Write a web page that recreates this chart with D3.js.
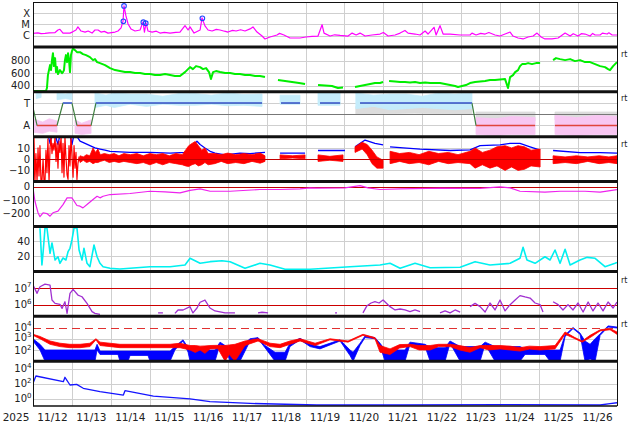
<!DOCTYPE html>
<html><head><meta charset="utf-8">
<script src="https://cdn.jsdelivr.net/npm/d3@7"></script>
<style>body{margin:0;background:#fff}svg{display:block}text{font-family:"DejaVu Sans",sans-serif;fill:#222}</style>
</head><body><svg id="c" width="634" height="424"></svg>
<script>
// ---- data: time in hours since 2025-11-12 00:00 UTC ----
const dayLabels = ["11/12","11/13","11/14","11/15","11/16","11/17","11/18","11/19","11/20","11/21","11/22","11/23","11/24","11/25","11/26"];
const yearLabel = "2025";

const xray = [[0,1.6e-6],[3,1.8e-6],[5,1.5e-6],[7.4,1.6e-6],[10,1.8e-6],[13.6,1.9e-6],[15.4,3.2e-6],[16.6,3.7e-6],[18.5,1.7e-6],[22.8,1.7e-6],[24.5,2.2e-6],[26.5,3.2e-6],[27.7,6.0e-6],[29.6,2.6e-6],[32.1,2.1e-6],[34,2.6e-6],[36.4,1.7e-6],[38.2,3.2e-6],[40.1,3.2e-6],[41.9,2.1e-6],[44,2.4e-6],[46.2,1.7e-6],[50.6,2.1e-6],[52.4,2.6e-6],[54.3,4.9e-6],[55.5,2.0e-5],[56.1,4.5e-4],[57.3,5.8e-5],[58.6,1.1e-5],[60.4,4.0e-6],[62.9,2.6e-6],[66,3.2e-6],[67.8,1.7e-5],[68.7,2.1e-6],[69.7,1.35e-5],[70.9,2.6e-6],[73.4,2.1e-6],[76,2.5e-6],[78.3,1.7e-6],[81,2.0e-6],[84.5,1.7e-6],[88,2.0e-6],[90.6,2.1e-6],[93.7,7.8e-6],[95.6,3.2e-6],[96.8,6.0e-6],[99.3,1.7e-6],[103,3.2e-6],[104.2,3.8e-5],[106,7.4e-6],[107.9,3.2e-6],[110.4,2.6e-6],[113,3.6e-6],[115.3,3.2e-6],[118,2.5e-6],[120.2,2.1e-6],[123,3.0e-6],[125.2,2.6e-6],[128,3.4e-6],[130.7,2.6e-6],[133.8,4.0e-6],[135.6,6.0e-6],[138.1,2.1e-6],[141.2,9.3e-7],[143,5.1e-7],[146.1,7.6e-7],[150.4,1.15e-6],[152,1.6e-6],[154.7,1.15e-6],[158.4,6.2e-7],[164.6,6.2e-7],[168.3,7.6e-7],[172,8.5e-7],[175.7,9.3e-7],[178.2,9.5e-6],[179.4,1.7e-6],[183.1,9.3e-7],[186,1.2e-6],[189.3,1.05e-6],[194.2,9.3e-7],[196.7,1.7e-6],[199.2,1.15e-6],[201.6,1.7e-6],[204.7,9.3e-7],[209,1.15e-6],[213.9,1.4e-6],[216,1.9e-6],[218.9,9.3e-7],[223.2,1.15e-6],[226.3,1.7e-6],[229.3,2.9e-6],[231.2,1.7e-6],[235.5,1.4e-6],[238.6,1.15e-6],[241.7,2.6e-6],[243.5,1.4e-6],[247.2,5.6e-6],[248.5,1.15e-6],[250.9,7.8e-6],[252.8,1.4e-6],[257.1,1.4e-6],[263.3,1.15e-6],[269.4,1.15e-6],[270.6,1.7e-6],[273.1,1.15e-6],[276,1.6e-6],[278.7,1.4e-6],[281,1.9e-6],[284.8,1.15e-6],[287.9,9.3e-7],[291,1.4e-6],[294.1,2.1e-6],[295.9,9.3e-7],[299,6.2e-7],[302.1,5.1e-7],[305.2,7.6e-7],[308.3,9.3e-7],[310.7,1.7e-6],[313.2,7.6e-7],[315.6,5.1e-7],[319.9,5.1e-7],[323.7,6.2e-7],[328,1.7e-6],[331.1,9.3e-7],[333,1.5e-6],[336,9.3e-7],[338,1.5e-6],[340.3,1.4e-6],[343.4,9.3e-7],[345,1.6e-6],[346.5,1.15e-6],[349.6,1.15e-6],[351,1.7e-6],[353.9,1.4e-6],[355,1.8e-6],[357,1.15e-6],[360,1.15e-6]];
const flares = [[55.7,1.9e-5],[56.1,4.5e-4],[68,1.6e-5],[69.5,1.3e-5],[104.4,3.5e-5]];

const speed = [[0,312],[4.3,312],[8,312],[8.6,360],[9.2,568],[10.5,728],[11.1,648],[11.7,808],[12.3,920],[12.9,712],[13.6,840],[14.2,616],[14.8,696],[15.4,584],[16.6,648],[17.9,600],[18.5,616],[19.1,648],[19.7,808],[20.3,888],[21,776],[21.6,920],[22.2,808],[22.8,616],[23.4,888],[24,952],[24.7,995],[25.9,968],[27.1,936],[29,936],[30.8,904],[32.7,888],[35.1,856],[37,808],[38.2,824],[39.5,776],[41.3,760],[44.4,728],[47.5,680],[50.6,648],[53.6,632],[56.7,616],[59.8,616],[62.9,600],[66,600],[69,584],[72.1,584],[75.2,568],[78.3,568],[81.4,584],[84.5,568],[87.5,552],[90.6,552],[93.7,616],[96.8,696],[98.6,664],[100.5,712],[103,696],[104.8,664],[106.7,680],[108.5,616],[109.7,504],[111,616],[112.8,632],[115.3,616],[118.4,600],[121.5,600],[124.5,584],[127.6,584],[130.7,568],[133.8,568],[136.9,552],[139.9,552],[143,536],null,
[151,488],[155.4,472],[159.7,456],[164,440],[167.7,424],null,
[175.7,408],[180,400],[184.3,392],[188,360],[191.1,368],null,
[198.5,376],[201.6,392],[204.7,408],[207.8,424],[210.8,440],[213.9,440],[215.8,456],null,
[219.5,472],[223.2,464],[226.3,456],[229.3,456],[232.4,448],[235.5,456],[238.6,440],[241.7,448],[244.8,440],[247.8,440],[250.9,440],[254,424],[257.1,408],[260.2,392],[262,376],[264.5,392],[266.9,408],[269.4,440],[272.5,456],[275.6,464],[278.7,472],[281.7,488],[284.8,488],[287.9,496],[291,504],[292.8,360],[294.1,536],[295.9,568],[297.2,616],[299,648],[300.2,712],[301.5,744],[303.3,744],[305.2,760],[307.6,744],[310.1,760],[312.6,760],null,
[320.6,808],[322.4,840],[324.9,824],[328,808],[331.1,824],[334.1,792],[337.2,808],[340.3,776],[343.4,776],[346.5,744],[349.6,712],[352.6,696],[354.5,664],[355.7,648],[357.6,712],[360,776]];

// solar wind type: 1 = T, 0 = A
const taState = [[0,0.8],[2.5,0],[14.8,0],[18.5,1],[24,1],[27.1,0],[35.8,0],[38.8,1],[141.2,1],null,[152.9,1],[164.6,1],null,[176.9,1],[189.3,1],null,[201.6,1],[270.6,1],[273.1,0],[309.5,0],null,[321.8,0],[360,0]];
const taCloudT = [[2,1.2,1.45],[5,1.25,1.45],null,[14.8,1.15,1.46],[20,1.2,1.4],[24,1.15,1.46],null,[38.2,0.8,1.45],[45,0.9,1.35],[50,0.8,1.45],[60,0.95,1.4],[70,0.85,1.4],[80,0.95,1.3],[90,0.9,1.42],[100,0.9,1.42],[110,0.95,1.35],[120,0.88,1.45],[130,0.9,1.38],[141.2,0.85,1.4],null,[152.3,0.95,1.35],[164.6,0.95,1.35],null,[175.7,0.9,1.45],[189.3,0.9,1.45],null,[199,0.75,1.45],[210,0.85,1.35],[220,0.7,1.4],[230,0.75,1.4],[240,0.8,1.3],[250,0.75,1.45],[260,0.7,1.4],[270.6,0.75,1.45]];
const taCloudA = [[0,-0.3,0.3],[6,-0.35,0.15],[10,-0.25,0.3],[14.8,-0.3,0.2],null,[25.9,-0.35,0.25],[30,-0.4,0.1],[35.8,-0.35,0.25],null,[273.1,-0.4,0.35],[285,-0.45,0.3],[295,-0.4,0.4],[309.5,-0.4,0.35],null,[321.8,-0.4,0.45],[335,-0.45,0.35],[348,-0.4,0.45],[360,-0.4,0.4]];
const taCloudG = [[199,0.5,0.85],[235,0.55,0.8],[270.6,0.5,0.85],null,[273.1,0.2,0.6],[309.5,0.2,0.6],null,[321.8,0.25,0.6],[360,0.25,0.6]];

const bzEarly = [[0,20],[0.3,-20],[0.6,20],[1.2,-20],[1.8,5],[2.5,-20],[3.1,10],[3.7,-15],[4.3,12],[4.9,-20],[5.5,-20],[6.2,0],[6.8,-20],[7.4,-20],[8,8],[8.6,-12],[9.2,18],[9.9,-20],[10.5,10],[11.1,20],[11.7,5],[12.3,14],[12.9,8],[13.6,20],[14.2,-2],[14.8,14],[15.4,-8],[16,16],[16.6,6],[17.3,20],[17.9,-12],[18.5,14],[19.1,-16],[19.7,20],[20.3,2],[21,-14],[21.6,-18],[22.2,12],[22.8,-6],[23.4,20],[24,4],[24.7,-16],[25.3,12],[25.9,-8],[26.5,6],[27.1,-18],[27.7,-4],[28.4,2],[29,-2]];
const bzBand = [[29,-3,3],[31,-1,2],[33,-3,4],[35,-2,3],[37,-4,10],[38.5,-3,6],[40,-3,9],[41.5,-2,4],[44,-1,5],[47,-3,4],[50,-2,5],[53,-3,3],[56,-2,5],[60,-3,4],[64,-4,5],[68,-3,3],[72,-5,5],[76,-3,4],[80,-5,5],[84,-3,3],[88,-4,5],[92,-5,4],[94,-6,8],[96,-6.6,12],[98,-5,14],[100,-4,15.7],[102,-6,12],[104,-5,8],[106,-3,10],[108,-5,5],[112,-4,5],[116,-2,4],[120,-4,5.4],[125,-3,4],[130,-4,5],[135,-2,4],[140,-3.6,5.4],[143,-2,3],null,
[152.3,0.3,3.8],[160,1,3],[167.7,0.3,3.8],null,[175.7,-2,3.8],[183,-1,2.5],[191.1,-2,3.8],null,
[198.5,6,11],[202.9,9,15],[206,4,13],[209,-4,8],[212,-8,2],[215.8,-8,-1],null,
[220.1,-4,7],[226,-2,5],[232,-4,6],[238,-3,4],[244,-5,7],[250,-2,5],[256,-4,6],[262,-3,4],[269.4,-4,7],[272.5,-8,10],[277,-5,6],[281.7,-8,8],[286,-6,11],[291,-10,12],[295,-7,10],[299,-10,12],[303,-9,11],[307,-6,8],[312.6,-7,9],null,
[320.6,-4,3],[328,-3,2],[335,-4,3],[342,-2,2],[349,-4,3],[355,-3,2],[360,-4,3]];
const bt = [[9.2,22],[10.5,14],[11.7,22],[13.6,22],[15.4,13],[16.6,22],[22.8,22],[24,13],[25.3,22],[27.1,20],[29,16],[32.1,14],[35.1,12],[38.2,10],[41.3,9],[44.4,8],[47.5,7],[53.6,6.5],[59.8,6],[72.1,6],[84.5,5.4],[93.7,6],[96.8,10],[99.9,14],[101.1,16],[103,13],[106,10],[109.2,7],[112.2,5.4],[118.4,3.8],[127.6,5.4],[133.8,5],[143,6],null,[152.3,5.4],[167.7,5.4],null,[175.7,7.7],[192.3,7.7],null,[198.5,11],[204.7,17],[210.8,14],[215.8,12.8],null,[220.1,11],[238.6,9],[257.1,7.7],[269.4,8.3],[275.6,12],[287.9,12.8],[294.1,14],[300.2,14],[306.4,11],[312.6,8],null,[320.6,7.7],[337.2,5.9],[349.6,5.9],[360,5.4]];

const dst = [[0,-8],[1.2,-109],[3.1,-196],[4.3,-226],[6.2,-196],[8.6,-202],[10.5,-222],[12.3,-196],[15.4,-184],[18.5,-134],[21,-83],[24,-83],[27.1,-141],[29,-146],[30.8,-159],[33.3,-134],[37,-96],[39.5,-71],[41.3,-83],[43.2,-71],[47.5,-58],[59.8,-50],[72.1,-33],[81.4,-38],[90.6,-45],[96.8,-26],[103,-15],[109.2,-33],[121.5,-33],[139.9,-20],[152.3,-20],[164.6,-15],[170.8,-8],[175.1,-10],[192.3,-8],[201.6,10],[206.5,-8],[213.9,-20],[226.3,-15],[250.9,-10],[275.6,-12],[287.9,0],[294.1,-8],[300.2,-33],[315.6,-40],[324.9,-33],[340.3,-33],[349.6,-40],[360,-20]];

const dens = [[4.3,57.6],[5.5,8.5],[6.2,24.6],[7.4,58],[8.6,58],[10.5,24.2],[11.7,38],[13.6,15.2],[15.4,19.6],[16.6,10.8],[18.5,17.9],[20.3,15.2],[21.6,26.3],[22.8,30.9],[24,42],[25.3,58],[27.1,58],[28.4,28.6],[30.2,15.2],[31.4,30.9],[33.3,10.8],[35.1,6.3],[37.6,35.3],[39.5,19.6],[41.3,10.8],[43.2,6.3],[47.5,4.1],[53.6,3.2],[72.1,6.3],[84.5,6.3],[93.7,8.6],[96.8,17.5],[103,10.8],[109.2,13],[116.5,14.3],[121.5,13],[130.7,4.1],[139.9,10.8],[146.1,8.6],[155.4,2.8],[170.8,2.8],[195.4,6.3],[213.9,8.6],[220.1,10.8],[226.3,4.1],[235.5,10.8],[244.8,4.9],[263.3,5.5],[272.5,13],[281.7,8.6],[294.1,10.8],[300.2,17.5],[302.1,32.2],[304.5,15.2],[309.5,10.8],[315.6,19.6],[318.7,15.2],[321.8,28.6],[324.9,10.8],[328,29.5],[331.1,8.6],[337.2,15.2],[341.6,18.8],[346.5,17.5],[352.6,6.3],[358.8,10.8],[360,12]];

const elec = [[0,1.5e7],[2.5,4.8e6],[4.3,1.2e7],[7.4,1.7e7],[10.5,1.5e7],[11.7,1.9e6],[13.6,1.2e6],[16.6,1.05e6],[17.9,6.0e5],[19.7,1.5e6],[21,3.0e5],[22.8,4.8e6],[24.7,8.3e6],[27.7,3.8e6],[30.2,3.0e6],[33.3,1.2e6],[36.4,3.8e5],[38.2,3.0e5],[41.3,2.6e5],null,
[77.1,3.2e5],[80.1,3.2e5],null,[87.5,3.0e5],[89.4,4.8e5],[92.5,4.8e5],[96.8,7.6e5],[98.6,3.2e5],[101.1,6.3e5],[103,1.4e6],[106,1.9e6],[109.1,6.3e5],[112.2,4.2e5],[118.4,3.2e5],[124.5,3.2e5],null,
[138.7,3.2e5],[141.2,3.5e5],[144.9,3.2e5],null,[186.2,3.2e5],[187.4,3.2e5],null,
[203.4,3.2e5],[205.9,8.7e5],[208.4,1.26e6],[210.8,1.5e6],[213.3,1.26e6],[215.8,1.9e6],[220.1,7.6e5],[223.2,4.8e5],[226.3,5.5e5],[229.3,4.8e5],[232.4,3.8e5],[235.5,4.8e5],[238.6,3.8e5],null,
[250.9,3.2e5],[254,4.2e5],[257.1,3.2e5],[260.2,4.8e5],[263.3,3.6e5],null,
[269.4,7.6e5],[272.5,1.2e6],[275.6,7.6e5],[278.7,3.6e5],[281.7,1.26e6],[284.8,4.8e5],[287.9,1.9e6],[291,4.2e5],[294.1,1.0e6],[297.2,1.9e6],[300.2,3.5e6],[303.3,2.9e6],[306.4,2.5e6],[309.5,1.26e6],[312.6,1.0e6],[314.4,3.6e5],null,
[320.6,1.5e6],[323.7,1.0e6],[326.7,4.8e5],[329.8,1.0e6],[332.9,4.8e5],[336,1.26e6],[339.1,3.6e5],[342.2,1.45e6],[345.2,4.2e5],[348.3,1.26e6],[351.4,4.2e5],[354.5,1.45e6],[357.6,6.3e5],[360,1.45e6]];

const protHi = [[0,2000,2500],[4.3,1000,1600],[10.5,320,630],[16.6,200,400],[22.8,160,320],[29,160,320],[35.1,200,400],[38.8,800,1000],[41.3,250,500],[53.6,160,320],[72.1,160,320],[84.5,160,320],[90.6,160,400],[96.8,100,250],[100,60,250],[103,100,220],[106,50,230],[109.1,125,250],[114,130,260],[118.4,10,250],[121,40,280],[124.5,10,320],[130.7,250,630],[138.7,630,1000],[146.1,200,400],[152.3,160,320],[158.4,320,630],[164.6,630,1000],[173.9,250,400],[183.1,800,1000],[194.2,500,630],[203.4,2000,2500],[210.8,1000,1260],[213.9,63,250],[220.1,40,125],[226,150,300],[232.4,200,320],[238,100,250],[244.8,100,250],[250,200,320],[257.1,200,320],[263,100,250],[269.4,63,160],[275.6,160,250],[281,100,250],[287.9,125,250],[294,100,220],[300.2,80,160],[306,120,220],[312.6,100,200],[321.8,125,250],[328,2500,4000],[334.1,1000,1260],[338.5,500,630],[343.4,1260,2000],[349.6,5000,6300],[355.7,6300,8000],[360,2500,4000]];
const protLo = [[0,630,1000],[4.3,100,320],[7.4,10,100],[38.2,10,100],[39.5,100,320],[41.3,40,80],[52.4,40,80],[53.6,10,80],[58.6,10,80],[59.8,32,80],[70.9,32,80],[72.1,10,80],[84.5,10,80],[87.5,100,200],[92.5,630,800],[95.6,63,160],[96.8,10,100],[112.2,10,100],[115.3,320,500],[118.4,160,250],[121.5,10,160],[127.6,10,160],[133.8,630,1000],[138.7,1000,1260],[143,160,250],[149.2,10,63],[155.4,10,63],[158.4,200,400],[164.6,800,1100],[170.8,200,320],[176.9,125,200],[189.3,630,800],[195.4,32,100],[197.3,10,63],[201.6,250,400],[204.7,1260,1800],[210.8,1000,1260],[213.9,250,400],[217,10,100],[229.3,10,100],[232.4,320,500],[241.7,200,320],[244.8,10,160],[254,10,160],[257.1,400,630],[263.3,10,200],[275.6,10,200],[278.7,320,500],[284.8,10,200],[300.2,10,200],[303.3,40,125],[315.6,40,125],[318.7,10,100],[324.9,10,100],[328,1600,2200],[332.9,8000,10000],[337.2,2500,3200],[340.3,10,630],[343.4,16,320],[346.5,10,1000],[349.6,2000,2800],[354.5,11000,14000],[360,9000,11000]];

const p9 = [[0,112],[1.8,1050],[18.7,182],[19.7,708],[22.8,66],[26.9,81],[31,24],[41.3,8.5],[55.7,3.0],[56.7,11.5],[74.2,2.2],[96.8,0.9],[109.1,0.39],[133.8,0.23],[175,0.14],[226.3,0.14],[287.9,0.16],[349.6,0.14],[355.7,0.22],[360,0.28]];

// ---- layout ----
const L=33, R=617, TOP=2, PH=44.9;
const T0 = Date.UTC(2025,10,12);
const hd = h => new Date(T0 + h*3600e3);
const x = d3.scaleUtc().domain([hd(0), hd(360)]).range([L,R]);
const svg = d3.select('#c');
const pTop = i => TOP + i*PH, pBot = i => TOP + (i+1)*PH;

const ys = [
  d3.scaleLog().domain([1e-7,1e-3]).range([pBot(0),pTop(0)]),
  d3.scaleLinear().domain([300,1020]).range([pBot(1),pTop(1)]),
  d3.scaleLinear().domain([-0.5,1.5]).range([pBot(2),pTop(2)]),
  d3.scaleLinear().domain([-20,20]).range([pBot(3),pTop(3)]),
  d3.scaleLinear().domain([-300,40]).range([pBot(4),pTop(4)]),
  d3.scaleLinear().domain([0,60]).range([pBot(5),pTop(5)]),
  d3.scaleLog().domain([2e5,1e8]).range([pBot(6),pTop(6)]),
  d3.scaleLog().domain([10,1e5]).range([pBot(7),pTop(7)]),
  d3.scaleLog().domain([0.1,1e5]).range([pBot(8),pTop(8)])
];

const defs = svg.append('defs');
ys.forEach((y,i)=>{
  defs.append('clipPath').attr('id','cp'+i).append('rect')
    .attr('x',L).attr('y',pTop(i)).attr('width',R-L).attr('height',PH);
});

// vertical day grid
const gGrid = svg.append('g');
for(let d=1; d<15; d++){
  const xx = Math.round(x(hd(d*24)))+0.5;
  gGrid.append('line').attr('x1',xx).attr('x2',xx).attr('y1',TOP).attr('y2',pBot(8)).attr('stroke','#cfcfcf').attr('stroke-width',1);
}
// horizontal grid
const hgrid = [[1e-6,1e-5,1e-4],[400,600,800],[0,1],[10,-10],[-100,-200],[20,40],[],[100,1000],[1,100,1e4]];
hgrid.forEach((vals,i)=>vals.forEach(v=>{
  const yy = Math.round(ys[i](v))+0.5;
  gGrid.append('line').attr('x1',L).attr('x2',R).attr('y1',yy).attr('y2',yy).attr('stroke','#cfcfcf');
}));

function line(i, data, color, w){
  const y = ys[i];
  svg.append('path').attr('clip-path',`url(#cp${i})`).attr('d', d3.line().defined(d=>d!==null).x(d=>x(hd(d[0]))).y(d=>y(d[1]))(data))
    .attr('fill','none').attr('stroke',color).attr('stroke-width',w||1).attr('stroke-linejoin','round');
}
function band(i, data, fill, op){
  const y = ys[i];
  const ar = d3.area().defined(d=>d!==null).x(d=>x(hd(d[0]))).y0(d=>y(d[1])).y1(d=>y(d[2]));
  svg.append('path').attr('clip-path',`url(#cp${i})`).attr('d', ar(data))
    .attr('fill',fill).attr('fill-opacity',op||1).attr('stroke',fill).attr('stroke-opacity',op||1).attr('stroke-width',0.8);
}
function hline(i, v, color, dash){
  const yy = Math.round(ys[i](v))+0.5;
  svg.append('line').attr('x1',L).attr('x2',R).attr('y1',yy).attr('y2',yy).attr('stroke',color).attr('stroke-width',1.2).attr('stroke-dasharray',dash||null);
}

// panel 1
line(0, xray, '#ff00ff', 1.2);
svg.append('g').selectAll('circle').data(flares).join('circle')
  .attr('cx',d=>x(hd(d[0]))).attr('cy',d=>ys[0](d[1])).attr('r',2.3)
  .attr('fill','none').attr('stroke','#2244ff').attr('stroke-width',1.1);
// panel 2
line(1, speed, '#00ee00', 2);
// panel 3
band(2, taCloudG, '#dcdcdc');
band(2, taCloudT, '#c4ecfb');
band(2, taCloudA, '#f8c6f2');
{ const yy = Math.round(ys[2](0.5))+0.5;
  svg.append('line').attr('x1',L).attr('x2',R).attr('y1',yy).attr('y2',yy).attr('stroke','#777'); }
line(2, taState, '#3f7f3f', 1.2);
for(let k=1;k<taState.length;k++){
  const a=taState[k-1], b=taState[k];
  if(a && b && a[1]===b[1]) line(2,[a,b], a[1]===1?'#4c62e8':'#e0443c',1.4);
}
// panel 4
line(3, bt, '#0000ff', 1.3);
band(3, bzBand, '#ff0000');
line(3, bzEarly, '#ff0000', 1.2);
hline(3, 0, '#c00000');
// panel 5
hline(4, 0, '#c00000');
line(4, dst, '#ee22ee', 1.2);
// panel 6
line(5, dens, '#00f0f0', 1.6);
// panel 7
hline(6, 1e7, '#cc0000'); hline(6, 1e6, '#cc0000');
line(6, elec, '#a030d0', 1.3);
// panel 8
band(7, protLo, '#0000ff');
band(7, protHi, '#ff0000');
hline(7, 1e4, '#e03030', '8,5');
// panel 9
line(8, p9, '#1515ff', 1.3);

// separators & frame
for(let i=1;i<9;i++){
  svg.append('line').attr('x1',L).attr('x2',R).attr('y1',pTop(i)).attr('y2',pTop(i)).attr('stroke','#111').attr('stroke-width',3);
}
svg.append('line').attr('x1',L).attr('x2',R).attr('y1',TOP+0.5).attr('y2',TOP+0.5).attr('stroke','#111');
svg.append('line').attr('x1',L).attr('x2',R).attr('y1',pBot(8)).attr('y2',pBot(8)).attr('stroke','#111').attr('stroke-width',1.5);
svg.append('line').attr('x1',L+0.5).attr('x2',L+0.5).attr('y1',TOP).attr('y2',pBot(8)).attr('stroke','#111');
svg.append('line').attr('x1',R+0.5).attr('x2',R+0.5).attr('y1',TOP).attr('y2',pBot(8)).attr('stroke','#111');

// y labels
const labs = svg.append('g').attr('font-size',10).attr('text-anchor','end');
function ylab(i, v, txt, dy){
  labs.append('text').attr('x',30).attr('y',ys[i](v)+(dy||0)).attr('dy','0.36em').text(txt);
}
function ylabPow(i, v, exp, dy){
  const t = labs.append('text').attr('x',31.5).attr('y',ys[i](v)+(dy||0)).attr('dy','0.36em');
  t.append('tspan').text('10');
  t.append('tspan').attr('font-size',7).attr('dy','-0.6em').text(exp);
}
ylab(0,1e-4,'X'); ylab(0,1e-5,'M'); ylab(0,1e-6,'C');
[400,600,800].forEach(v=>ylab(1,v,String(v)));
ylab(2,1,'T'); ylab(2,0,'A');
ylab(3,10,'10'); ylab(3,0,'0'); ylab(3,-10,'\u221210');
ylab(4,0,'0'); ylab(4,-100,'\u2212100'); ylab(4,-200,'\u2212200');
ylab(5,40,'40'); ylab(5,20,'20');
ylabPow(6,1e7,'7'); ylabPow(6,1e6,'6');
ylabPow(7,1e4,'4',-0.5); ylabPow(7,1e3,'3',-1.5); ylabPow(7,1e2,'2',0.5);
ylabPow(8,1e4,'4'); ylabPow(8,1e2,'2'); ylabPow(8,1,'0');

// "rt" markers
[[1,57],[2,101],[3,147],[6,283],[7,327]].forEach(d=>{
  svg.append('text').attr('x',621).attr('y',d[1]).attr('font-size',8).attr('fill','#444').text('rt');
});

// x labels
const xl = svg.append('g').attr('font-size',10.5).attr('text-anchor','middle');
xl.append('text').attr('x',16).attr('y',421).text(yearLabel);
dayLabels.forEach((s,i)=>xl.append('text').attr('x',x(hd(i*24+12))).attr('y',421).text(s));
</script></body></html>
